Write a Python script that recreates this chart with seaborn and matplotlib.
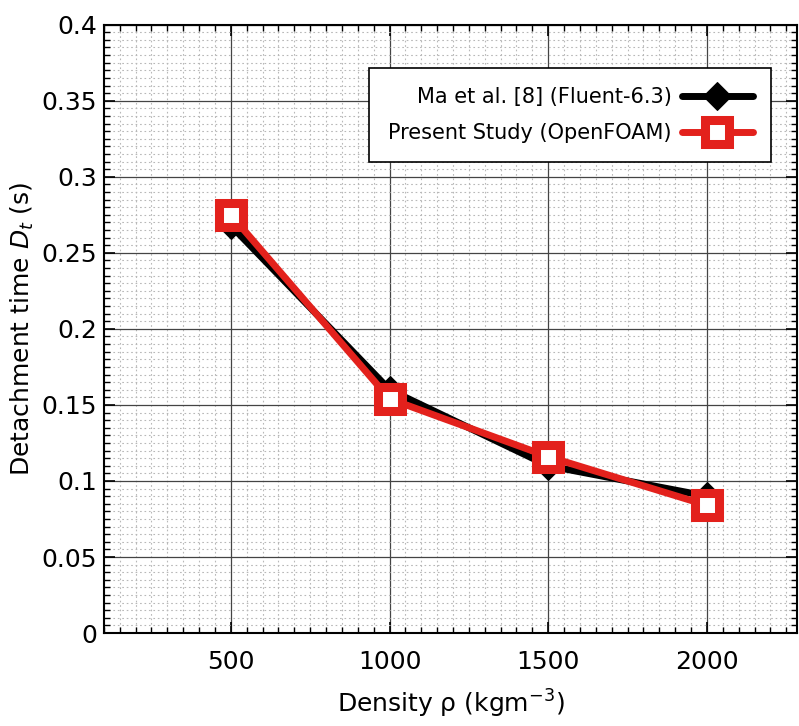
import matplotlib
matplotlib.use("Agg")
import matplotlib.pyplot as plt
from matplotlib.ticker import MultipleLocator
import pandas as pd
import seaborn as sns

density = [500, 1000, 1500, 2000]
ma_fluent = [0.268, 0.160, 0.110, 0.090]
present_openfoam = [0.275, 0.154, 0.116, 0.084]

labels = ["Ma et al. [8] (Fluent-6.3)", "Present Study (OpenFOAM)"]
yticks = [0, 0.05, 0.1, 0.15, 0.2, 0.25, 0.3, 0.35, 0.4]
ytick_labels = ["0", "0.05", "0.1", "0.15", "0.2", "0.25", "0.3", "0.35", "0.4"]

sns.set_theme(style="white")
plt.rcParams["font.family"] = ["DejaVu Sans"]
plt.rcParams["mathtext.fontset"] = "dejavusans"
plt.rcParams["text.color"] = "black"
plt.rcParams["axes.labelcolor"] = "black"
plt.rcParams["xtick.color"] = "black"
plt.rcParams["ytick.color"] = "black"

df_ma = pd.DataFrame({"density": density, "dt": ma_fluent})
df_of = pd.DataFrame({"density": density, "dt": present_openfoam})

fig = plt.figure(figsize=(7.99, 7.26), dpi=100)
ax = fig.add_axes([0.130, 0.128, 0.868, 0.838])

sns.lineplot(data=df_ma, x="density", y="dt", ax=ax, color="black", lw=5,
             marker="D", markersize=14, markerfacecolor="black",
             markeredgecolor="black", label=labels[0], zorder=3)
sns.lineplot(data=df_of, x="density", y="dt", ax=ax, color="#e3211c", lw=5,
             marker="s", markersize=17, markerfacecolor="white",
             markeredgecolor="#e3211c", markeredgewidth=6.5,
             label=labels[1], zorder=4)

ax.set_xlim(100, 2285)
ax.set_ylim(0, 0.4)
ax.xaxis.set_major_locator(MultipleLocator(500))
ax.xaxis.set_minor_locator(MultipleLocator(50))
ax.yaxis.set_minor_locator(MultipleLocator(0.005))
ax.set_yticks(yticks)
ax.set_yticklabels(ytick_labels)

ax.grid(which="major", color="#444444", lw=0.9, ls="-")
ax.grid(which="minor", color="#b8b8b8", lw=0.8, ls=(0, (1.5, 2.5)))
ax.set_axisbelow(True)

ax.tick_params(which="both", direction="in", top=True, right=True,
               bottom=True, left=True, color="black")
ax.tick_params(which="major", length=8, width=1.2, labelsize=18)
ax.tick_params(axis="y", which="major", pad=5)
ax.tick_params(axis="x", which="major", pad=12)
ax.tick_params(which="minor", length=4, width=1)
for s in ax.spines.values():
    s.set_color("black")
    s.set_linewidth(1.5)

ax.set_xlabel(r"Density ρ (kgm$^{-3}$)", fontsize=18, labelpad=10)
ax.set_ylabel(r"Detachment time $D_t$ (s)", fontsize=18, labelpad=4)

leg = ax.legend(loc="upper right", bbox_to_anchor=(0.9625, 0.928),
                borderaxespad=0, markerfirst=False, fontsize=15,
                frameon=True, fancybox=False, edgecolor="black",
                framealpha=1, handlelength=3.4, borderpad=0.9,
                labelspacing=0.75, handletextpad=0.5)
leg.get_frame().set_linewidth(1.2)
for t in leg.get_texts():
    t.set_ha("right")
    t.set_color("black")

fig.savefig("out.png", dpi=100)
